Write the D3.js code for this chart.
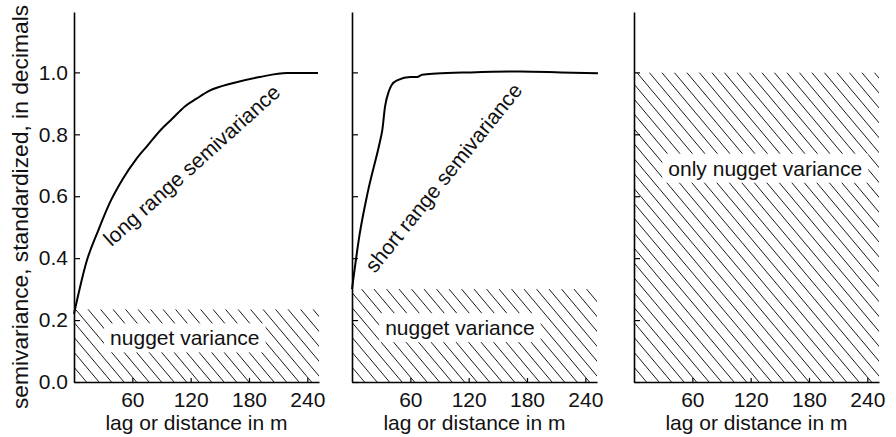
<!DOCTYPE html>
<html>
<head>
<meta charset="utf-8">
<script src="https://cdn.jsdelivr.net/npm/d3@7"></script>
<style>
  body { margin: 0; background: #fff; }
  svg { display: block; font-family: "Liberation Sans", Arial, Helvetica, sans-serif; }
</style>
</head>
<body>
<div id="chart"></div>
<script>
// Data
var xTicks = [60, 120, 180, 240];
var yTicks = [0.0, 0.2, 0.4, 0.6, 0.8, 1.0];
var yTickLabels = ["0.0", "0.2", "0.4", "0.6", "0.8", "1.0"];

// long range semivariance (panel 1): [lag m, semivariance]
var longRange = [
  [0, 0.22], [13, 0.39], [25, 0.49], [37, 0.58], [50, 0.655], [64, 0.72],
  [76, 0.765], [88, 0.81], [101, 0.85], [114, 0.89], [126, 0.915],
  [139, 0.94], [163, 0.965], [191, 0.985], [219, 0.998], [251, 0.998]
];

// short range semivariance (panel 2)
var shortRange = [
  [0, 0.30], [8, 0.48], [16, 0.61], [29, 0.78], [31, 0.81], [34, 0.89],
  [38, 0.94], [41, 0.96], [47, 0.975], [60, 0.985], [67, 0.985],
  [72, 0.992], [87, 0.996], [122, 1.0], [173, 1.003], [215, 1.0], [253, 0.997]
];

// nugget (hatched) level per panel
var nuggetTop = [0.235, 0.30, 1.0];

var nuggetLabels = ["nugget variance", "nugget variance", "only nugget variance"];
var nuggetLabelPos = [[114, 0.142], [111, 0.175], [135, 0.69]];

var curveLabels = ["long range semivariance", "short range semivariance"];
var curveLabelPos = [[121, 0.70], [94, 0.66]];
var curveLabelAngle = [-42, -51];

var xTitle = "lag or distance in m";
var yTitle = "semivariance, standardized, in decimals";

// Layout
var W = 896, H = 437;
var panelLeft = [74, 352, 634];
var panelWidth = 245;
var yBottom = 382, yTop = 12;
var xMax = 252, yMax = 1.195;
var fontSize = 21;
var hatchStep = 12.5;          // horizontal distance between hatch lines
var hatchSlope = Math.tan(50 * Math.PI / 180);

var svg = d3.select("#chart").append("svg")
    .attr("width", W)
    .attr("height", H);

svg.append("rect").attr("width", W).attr("height", H).attr("fill", "#fff");

var defs = svg.append("defs");
var y = d3.scaleLinear().domain([0, yMax]).range([yBottom, yTop]);

var panels = [
  { curve: longRange },
  { curve: shortRange },
  { curve: null }
];

panels.forEach(function(p, i) {
  var x = d3.scaleLinear().domain([0, xMax]).range([panelLeft[i], panelLeft[i] + panelWidth]);
  var g = svg.append("g").attr("class", "panel");

  // hatched nugget area, drawn as clipped diagonal lines
  var hx0 = x(0), hx1 = x(xMax), hy0 = y(nuggetTop[i]), hy1 = y(0);
  defs.append("clipPath")
      .attr("id", "clip" + i)
    .append("rect")
      .attr("x", hx0).attr("y", hy0)
      .attr("width", hx1 - hx0).attr("height", hy1 - hy0);
  var drop = (hy1 - hy0) / hatchSlope;
  var starts = d3.range(hx0 - drop, hx1, hatchStep);
  g.append("g")
      .attr("clip-path", "url(#clip" + i + ")")
    .selectAll("line")
    .data(starts)
    .enter().append("line")
      .attr("x1", function(s) { return s; })
      .attr("y1", hy0)
      .attr("x2", function(s) { return s + drop; })
      .attr("y2", hy1)
      .attr("stroke", "#000")
      .attr("stroke-width", 0.9);

  // label with white box over the hatch
  var lp = nuggetLabelPos[i];
  var lg = g.append("g");
  var lt = lg.append("text")
      .attr("x", x(lp[0]))
      .attr("y", y(lp[1]))
      .attr("dy", "0.35em")
      .attr("text-anchor", "middle")
      .style("font-size", fontSize + "px")
      .attr("fill", "#111")
      .text(nuggetLabels[i]);
  var bb = lt.node().getBBox();
  lg.insert("rect", "text")
      .attr("x", bb.x - 6)
      .attr("y", bb.y - 3)
      .attr("width", bb.width + 12)
      .attr("height", bb.height + 6)
      .attr("fill", "#fff");

  // semivariance curve
  if (p.curve) {
    var line = d3.line()
        .x(function(d) { return x(d[0]); })
        .y(function(d) { return y(d[1]); })
        .curve(d3.curveMonotoneX);
    g.append("path")
        .datum(p.curve)
        .attr("d", line)
        .attr("fill", "none")
        .attr("stroke", "#000")
        .attr("stroke-width", 2);

    var cp = curveLabelPos[i];
    var cx = x(cp[0]), cy = y(cp[1]);
    g.append("text")
        .attr("transform", "translate(" + cx + "," + cy + ") rotate(" + curveLabelAngle[i] + ")")
        .attr("dy", "0.35em")
        .attr("text-anchor", "middle")
        .style("font-size", fontSize + "px")
        .attr("fill", "#111")
        .text(curveLabels[i]);
  }

  // axes
  var xAxis = d3.axisBottom(x)
      .tickValues(xTicks)
      .tickSizeInner(-4)
      .tickSizeOuter(0)
      .tickPadding(10);
  var yAxis = d3.axisLeft(y)
      .tickValues(yTicks)
      .tickSizeInner(-6)
      .tickSizeOuter(0)
      .tickPadding(6)
      .tickFormat(function(d, k) { return i === 0 ? yTickLabels[k] : ""; });

  var gx = g.append("g")
      .attr("transform", "translate(0," + yBottom + ")")
      .call(xAxis);
  var gy = g.append("g")
      .attr("transform", "translate(" + x(0) + ",0)")
      .call(yAxis);

  [gx, gy].forEach(function(a) {
    a.attr("font-family", null).attr("font-size", null);
    a.select(".domain").attr("stroke", "#000").attr("stroke-width", 1.6);
    a.selectAll(".tick line").attr("stroke", "#000").attr("stroke-width", 1.2);
    a.selectAll(".tick text").style("font-size", fontSize + "px").attr("fill", "#111");
  });

  g.append("text")
      .attr("x", (x(0) + x(xMax)) / 2)
      .attr("y", 430)
      .attr("text-anchor", "middle")
      .style("font-size", fontSize + "px")
      .attr("fill", "#111")
      .text(xTitle);
});

svg.append("text")
    .attr("transform", "translate(28," + 207 + ") rotate(-90)")
    .attr("text-anchor", "middle")
    .style("font-size", "22.8px")
    .attr("fill", "#111")
    .text(yTitle);
</script>
</body>
</html>
